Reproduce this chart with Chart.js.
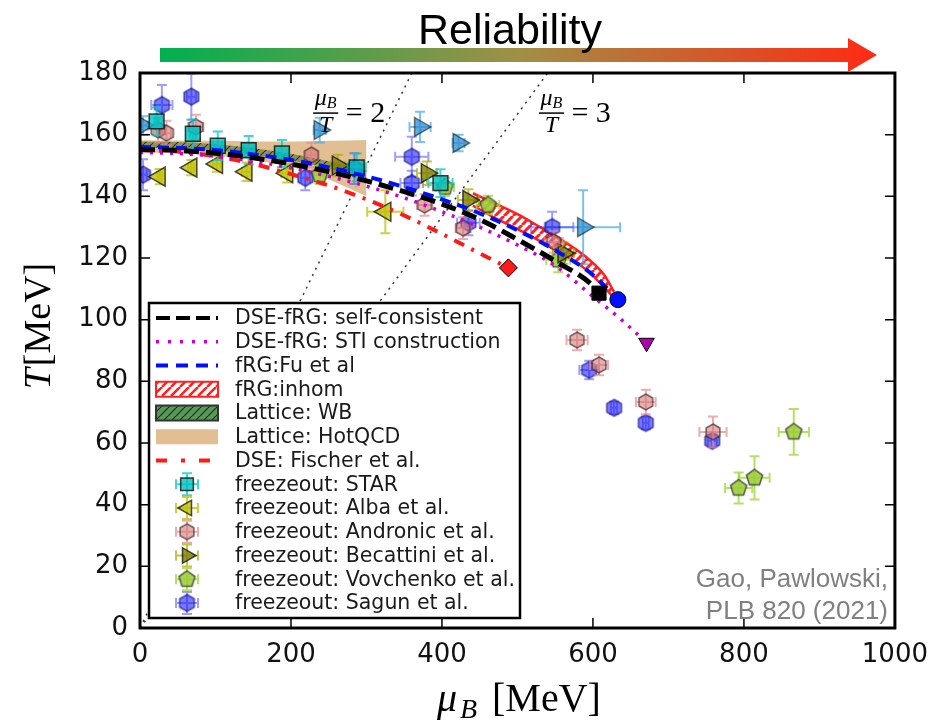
<!DOCTYPE html>
<html>
<head>
<meta charset="utf-8">
<title>QCD phase boundary</title>
<script src="https://cdn.jsdelivr.net/npm/chart.js@4.4.1/dist/chart.umd.min.js"></script>
<style>
  html, body { margin: 0; padding: 0; background: #fff; }
</style>
</head>
<body>
<canvas id="phaseChart" width="940" height="727"></canvas>
<script>
/* =========================================================
   Chiral phase boundary T(mu_B) — curves, bands, freeze-out
   ========================================================= */

// ---- phase boundary curves ----
const selfConsMu = [0, 50, 100, 150, 200, 250, 300, 350, 400, 450, 500, 550, 600, 608];
const selfConsT  = [155.2, 154.9, 154, 152.5, 150.5, 148, 145, 141.5, 137.5, 132.5, 126, 119, 111, 108.6];

const stiMu = [0, 50, 100, 150, 200, 250, 300, 350, 400, 450, 500, 550, 600, 640, 671];
const stiT  = [154.2, 153.9, 153, 151.4, 149.2, 146.5, 143.3, 139.5, 135, 130, 124.2, 117.5, 107.5, 99.5, 92.5];

const fuMu = [0, 50, 100, 150, 200, 250, 300, 350, 400, 450, 500, 550, 600, 633];
const fuT  = [156, 155.7, 155, 153.6, 151.8, 149.4, 146.5, 143, 139, 134.5, 129, 122.5, 114.5, 106.5];

const fischerMu = [0, 50, 100, 150, 200, 250, 300, 350, 400, 450, 488];
const fischerT  = [155, 154.5, 153, 150.5, 147.2, 143.5, 139, 133.8, 127.8, 121.5, 116.8];

// ---- bands ----
const inhomMu   = [441, 470, 500, 530, 560, 590, 615, 628];
const inhomHiT  = [141, 137.7, 134.2, 130, 125.6, 120.5, 114.5, 109];
const inhomLoT  = [137, 133, 129.4, 125.5, 121.3, 116.4, 110.5, 107];

const latticeMu = [0, 50, 100, 150, 200, 250, 300];
const wbHiT     = [157.8, 157.6, 156.9, 155.6, 153.8, 151.4, 148.5];
const wbLoT     = [155.8, 155.6, 154.9, 153.5, 151.6, 149, 145.8];
const hotHiT    = [158.2, 158.1, 158, 157.8, 157.8, 158, 158.3];
const hotLoT    = [154.2, 154, 153.2, 151.8, 149.5, 145.5, 140];

// ---- constant mu_B/T guide lines ----
const ratio2Mu = [0, 360];
const ratio2T  = [0, 180];
const ratio3Mu = [0, 540];
const ratio3T  = [0, 180];

// ---- freeze-out points ----
const starMu    = [22, 70, 103, 144, 188, 287, 398];
const starT     = [164.3, 160.3, 156.4, 155, 153.9, 149.4, 144.3];
const starMuErr = [3, 4, 6, 7, 9, 12, 16];
const starTErr  = [4.5, 4.6, 4.6, 4.6, 4.4, 4.5, 4.5];

const albaMu    = [26, 68, 102, 141, 195, 325];
const albaT     = [146.4, 149.3, 150.5, 148, 147.5, 135];
const albaMuErr = [3, 4, 5, 6, 8, 24];
const albaTErr  = [2.5, 2.5, 2.5, 3, 3, 7];

const andronicMu    = [24, 35, 74, 227, 377, 428, 548, 579, 608, 670, 759];
const andronicT     = [161.5, 160.5, 162.5, 153.4, 137.2, 129.7, 125.2, 93.4, 85.3, 73.3, 63.6];
const andronicMuErr = [6, 6, 10, 8, 10, 10, 12, 14, 12, 13, 18];
const andronicTErr  = [4, 4, 4, 4, 3.5, 3.5, 3.5, 3.3, 3.3, 4, 5];

const becattiniMu    = [262, 380, 435, 561];
const becattiniT     = [150, 147.5, 138.8, 121.6];
const becattiniMuErr = [10, 13, 14, 14];
const becattiniTErr  = [3.5, 3.8, 3.5, 3.5];

const vovchenkoMu    = [238, 404, 461, 554, 793, 814, 866];
const vovchenkoT     = [147, 143, 137.2, 119.4, 45.4, 48.7, 63.6];
const vovchenkoMuErr = [8, 12, 15, 16, 18, 20, 20];
const vovchenkoTErr  = [3, 3, 3, 4, 5, 7, 7.4];

const sagunMu    = [4, 29, 68, 219, 284, 360, 360, 435, 546, 595, 628, 670, 758];
const sagunT     = [147, 169.6, 172.3, 146, 149, 152.8, 144.3, 131.4, 130, 83.7, 71.4, 66.5, 60.7];
const sagunMuErr = [5, 14, 6, 6, 10, 22, 15, 15, 28, 13, 4, 4, 6];
const sagunTErr  = [5, 6.5, 7.5, 4, 5, 6.5, 4, 4, 5, 3, 2, 2, 2];

// unlabelled light-blue triangles
const extraMu    = [4, 238, 371, 422, 587];
const extraT     = [163, 161.5, 162.5, 157.3, 130];
const extraMuErr = [6, 8, 14, 8, 49];
const extraTErr  = [3, 4, 4.9, 2.7, 12];

// text placed in data coordinates
const ratioLabels = [{ r: "2", mu: 246, T: 167 }, { r: "3", mu: 545, T: 167 }];

const SANS = "'DejaVu Sans', sans-serif";
const SERIF = "'Liberation Serif', 'DejaVu Serif', serif";

function pts(xs, ys) {
  return xs.map((x, i) => ({ x, y: ys[i] }));
}

function hatch(bg, fg, width, step) {
  const c = document.createElement("canvas");
  c.width = c.height = step;
  const g = c.getContext("2d");
  if (bg) { g.fillStyle = bg; g.fillRect(0, 0, step, step); }
  g.strokeStyle = fg;
  g.lineWidth = width;
  g.beginPath();
  for (const t of [-step, 0, step]) {
    g.moveTo(t, step);
    g.lineTo(t + step, 0);
  }
  g.stroke();
  return document.createElement("canvas").getContext("2d").createPattern(c, "repeat");
}

function polyMarker(n, r, fill, stroke) {
  const c = document.createElement("canvas");
  const s = Math.ceil(2 * r + 4);
  c.width = c.height = s;
  const g = c.getContext("2d");
  g.beginPath();
  for (let k = 0; k < n; k++) {
    const a = (k * 2 * Math.PI) / n - Math.PI / 2;
    const px = s / 2 + r * Math.cos(a), py = s / 2 + r * Math.sin(a);
    k ? g.lineTo(px, py) : g.moveTo(px, py);
  }
  g.closePath();
  g.fillStyle = fill;
  g.fill();
  g.lineWidth = 1.5;
  g.strokeStyle = stroke;
  g.stroke();
  return c;
}

const lastOnly = (n, r) => (c) => (c.dataIndex === n - 1 ? r : 0);

function curve(label, xs, ys, o) {
  return Object.assign({
    label, data: pts(xs, ys), showLine: true, fill: false,
    cubicInterpolationMode: "monotone", pointRadius: 0, pointHoverRadius: 0,
  }, o);
}

function freeze(label, xs, ys, xe, ye, o) {
  return Object.assign({
    label, data: pts(xs, ys), xErr: xe, yErr: ye, showLine: false,
    pointBorderWidth: 1.5, order: 5, legendKind: "marker",
  }, o);
}

const datasets = [
  curve("mu/T=2", ratio2Mu, ratio2T, { borderColor: "#333", borderWidth: 1.5, borderDash: [2, 5], order: 10, cubicInterpolationMode: "default" }),
  curve("mu/T=3", ratio3Mu, ratio3T, { borderColor: "#333", borderWidth: 1.5, borderDash: [2, 5], order: 10, cubicInterpolationMode: "default" }),

  curve("Lattice: HotQCD", latticeMu, hotHiT, {
    borderWidth: 0, fill: "+1", backgroundColor: "rgba(222,184,135,0.9)", order: 9,
    legendRank: 6, legendKind: "band",
  }),
  curve("hot-lo", latticeMu, hotLoT, { borderWidth: 0, order: 9 }),

  curve("Lattice: WB", latticeMu, wbHiT, {
    borderWidth: 0, fill: "+1", backgroundColor: hatch("rgba(70,110,40,0.55)", "rgba(30,30,10,0.8)", 1.2, 8), order: 8,
    legendRank: 5, legendKind: "band", legendFill: hatch("rgba(70,140,70,0.9)", "rgba(20,40,20,0.9)", 1.2, 8), legendEdge: "#333",
  }),
  curve("wb-lo", latticeMu, wbLoT, { borderWidth: 0, order: 8 }),

  curve("fRG:inhom", inhomMu, inhomHiT, {
    borderColor: "#ff2020", borderWidth: 2.5, fill: "+1", backgroundColor: hatch(null, "#ff2020", 3, 9), order: 7,
    legendRank: 4, legendKind: "band", legendFill: hatch("#fff", "#ff2020", 2.5, 9), legendEdge: "#ff2020",
  }),
  curve("inhom-lo", inhomMu, inhomLoT, { borderColor: "#ff2020", borderWidth: 2.5, order: 7 }),

  freeze("freezeout: STAR", starMu, starT, starMuErr, starTErr, {
    pointStyle: "rect", pointRadius: 10.5, pointBackgroundColor: "rgba(0,191,191,0.8)", pointBorderColor: "rgba(0,0,0,0.75)",
    errColor: "rgba(0,200,200,0.75)", legendRank: 8,
  }),
  freeze("freezeout: Alba et al.", albaMu, albaT, albaMuErr, albaTErr, {
    pointStyle: "triangle", pointRotation: 270, pointRadius: 11, pointBackgroundColor: "rgba(191,191,0,0.8)", pointBorderColor: "rgba(0,0,0,0.7)",
    errColor: "rgba(191,191,0,0.75)", legendRank: 9,
  }),
  freeze("freezeout: Andronic et al.", andronicMu, andronicT, andronicMuErr, andronicTErr, {
    pointStyle: polyMarker(6, 8, "rgba(215,120,120,0.6)", "rgba(60,40,40,0.7)"), pointRadius: 8,
    errColor: "rgba(225,140,140,0.7)", legendRank: 10,
  }),
  freeze("freezeout: Becattini et al.", becattiniMu, becattiniT, becattiniMuErr, becattiniTErr, {
    pointStyle: "triangle", pointRotation: 90, pointRadius: 11, pointBackgroundColor: "rgba(128,128,0,0.8)", pointBorderColor: "rgba(0,0,0,0.7)",
    errColor: "rgba(170,170,0,0.7)", legendRank: 11,
  }),
  freeze("freezeout: Vovchenko et al.", vovchenkoMu, vovchenkoT, vovchenkoMuErr, vovchenkoTErr, {
    pointStyle: polyMarker(5, 8.5, "rgba(154,205,50,0.85)", "rgba(50,50,50,0.8)"), pointRadius: 8,
    errColor: "rgba(154,215,50,0.75)", legendRank: 12,
  }),
  freeze("freezeout: Sagun et al.", sagunMu, sagunT, sagunMuErr, sagunTErr, {
    pointStyle: polyMarker(6, 8.5, "rgba(30,30,255,0.6)", "rgba(0,0,90,0.6)"), pointRadius: 8,
    errColor: "rgba(40,40,255,0.45)", legendRank: 13,
  }),
  freeze("freezeout: extra", extraMu, extraT, extraMuErr, extraTErr, {
    pointStyle: "triangle", pointRotation: 90, pointRadius: 11, pointBackgroundColor: "rgba(40,140,210,0.75)", pointBorderColor: "rgba(0,0,0,0.5)",
    errColor: "rgba(70,165,225,0.7)", legendKind: null,
  }),

  curve("DSE: Fischer et al.", fischerMu, fischerT, {
    borderColor: "#ff1a1a", borderWidth: 4, borderDash: [11, 8, 3, 8], order: 4,
    pointRadius: lastOnly(fischerMu.length, 9), pointStyle: "rectRot", pointBackgroundColor: "#ff1a1a", pointBorderColor: "#000", pointBorderWidth: 1,
    legendRank: 7, legendKind: "line", legendDash: [11, 14, 4, 14],
  }),
  curve("DSE-fRG: STI construction", stiMu, stiT, {
    borderColor: "#cc00cc", borderWidth: 3.5, borderDash: [3, 7], order: 3,
    pointRadius: lastOnly(stiMu.length, 9), pointStyle: "triangle", pointRotation: 180, pointBackgroundColor: "#b000b0", pointBorderColor: "#000", pointBorderWidth: 1,
    legendRank: 2, legendKind: "line", legendDash: [3, 9],
  }),
  curve("fRG:Fu et al", fuMu, fuT, {
    borderColor: "#0010ff", borderWidth: 4, borderDash: [11, 7], order: 2,
    pointRadius: lastOnly(fuMu.length, 8), pointStyle: "circle", pointBackgroundColor: "#0010ff", pointBorderColor: "#000", pointBorderWidth: 1,
    legendRank: 3, legendKind: "line", legendDash: [12, 8],
  }),
  curve("DSE-fRG: self-consistent", selfConsMu, selfConsT, {
    borderColor: "#000", borderWidth: 5, borderDash: [15, 7], order: 1,
    pointRadius: lastOnly(selfConsMu.length, 10), pointStyle: "rect", pointBackgroundColor: "#000", pointBorderColor: "#000", pointBorderWidth: 1,
    legendRank: 1, legendKind: "line", legendDash: [14, 6],
  }),
];

// error bars under each freeze-out dataset
const errorBars = {
  id: "errorBars",
  beforeDatasetDraw(chart, args) {
    const ds = chart.data.datasets[args.index];
    if (!ds.xErr && !ds.yErr) return;
    const { ctx, chartArea: a, scales: { x, y } } = chart;
    const cap = 5;
    ctx.save();
    ctx.beginPath();
    ctx.rect(a.left, a.top, a.width, a.height);
    ctx.clip();
    ctx.strokeStyle = ds.errColor;
    ctx.lineWidth = 2;
    ds.data.forEach((p, i) => {
      const px = x.getPixelForValue(p.x), py = y.getPixelForValue(p.y);
      const l = x.getPixelForValue(p.x - ds.xErr[i]), r = x.getPixelForValue(p.x + ds.xErr[i]);
      const t = y.getPixelForValue(p.y + ds.yErr[i]), b = y.getPixelForValue(p.y - ds.yErr[i]);
      ctx.beginPath();
      ctx.moveTo(l, py); ctx.lineTo(r, py);
      ctx.moveTo(l, py - cap); ctx.lineTo(l, py + cap);
      ctx.moveTo(r, py - cap); ctx.lineTo(r, py + cap);
      ctx.moveTo(px, t); ctx.lineTo(px, b);
      ctx.moveTo(px - cap, t); ctx.lineTo(px + cap, t);
      ctx.moveTo(px - cap, b); ctx.lineTo(px + cap, b);
      ctx.stroke();
    });
    ctx.restore();
  },
};

// matplotlib-like legend box in the lower-left corner
const boxLegend = {
  id: "boxLegend",
  afterDatasetsDraw(chart) {
    const { ctx } = chart;
    const items = chart.data.datasets.filter((d) => d.legendRank).sort((a, b) => a.legendRank - b.legendRank);
    const box = { x: 149, y: 303, w: 371, h: 315 };
    ctx.save();
    ctx.fillStyle = "#fff";
    ctx.fillRect(box.x, box.y, box.w, box.h);
    ctx.lineWidth = 2.5;
    ctx.strokeStyle = "#000";
    ctx.strokeRect(box.x, box.y, box.w, box.h);

    items.forEach((d, i) => {
      const cy = box.y + 15 + i * 23.75;
      const x0 = 156, x1 = 218, xm = 187;
      if (d.legendKind === "line") {
        ctx.save();
        ctx.setLineDash(d.legendDash || []);
        ctx.lineWidth = Math.min(d.borderWidth, 4);
        ctx.strokeStyle = d.borderColor;
        ctx.beginPath();
        ctx.moveTo(x0, cy);
        ctx.lineTo(x1, cy);
        ctx.stroke();
        ctx.restore();
      } else if (d.legendKind === "band") {
        ctx.fillStyle = d.legendFill || d.backgroundColor;
        ctx.fillRect(x0, cy - 7.5, x1 - x0, 15);
        if (d.legendEdge) {
          ctx.lineWidth = 2;
          ctx.strokeStyle = d.legendEdge;
          ctx.strokeRect(x0, cy - 7.5, x1 - x0, 15);
        }
      } else {
        ctx.strokeStyle = d.errColor;
        ctx.lineWidth = 2;
        ctx.beginPath();
        ctx.moveTo(xm - 11, cy); ctx.lineTo(xm + 11, cy);
        ctx.moveTo(xm, cy - 11); ctx.lineTo(xm, cy + 11);
        ctx.moveTo(xm - 11, cy - 5); ctx.lineTo(xm - 11, cy + 5);
        ctx.moveTo(xm + 11, cy - 5); ctx.lineTo(xm + 11, cy + 5);
        ctx.moveTo(xm - 5, cy - 11); ctx.lineTo(xm + 5, cy - 11);
        ctx.moveTo(xm - 5, cy + 11); ctx.lineTo(xm + 5, cy + 11);
        ctx.stroke();
        ctx.fillStyle = d.pointBackgroundColor || "#000";
        ctx.strokeStyle = d.pointBorderColor || "#000";
        ctx.lineWidth = 1.5;
        Chart.helpers.drawPoint(ctx, {
          pointStyle: d.pointStyle, rotation: d.pointRotation || 0, radius: 9, borderWidth: 1.5,
        }, xm, cy);
      }
      ctx.fillStyle = "#1a1a1a";
      ctx.font = "20.5px " + SANS;
      ctx.textAlign = "left";
      ctx.textBaseline = "middle";
      ctx.fillText(d.label, 235, cy + 1);
    });
    ctx.restore();
  },
};

// thick frame with inward ticks on all four sides
const frame = {
  id: "frame",
  afterDraw(chart) {
    const { ctx, chartArea: a, scales: { x, y } } = chart;
    ctx.save();
    ctx.strokeStyle = "#000";
    ctx.lineWidth = 1.5;
    ctx.beginPath();
    x.ticks.forEach((t) => {
      const px = x.getPixelForValue(t.value);
      ctx.moveTo(px, a.bottom); ctx.lineTo(px, a.bottom - 10);
      ctx.moveTo(px, a.top); ctx.lineTo(px, a.top + 10);
    });
    y.ticks.forEach((t) => {
      const py = y.getPixelForValue(t.value);
      ctx.moveTo(a.left, py); ctx.lineTo(a.left + 10, py);
      ctx.moveTo(a.right, py); ctx.lineTo(a.right - 10, py);
    });
    ctx.stroke();
    ctx.lineWidth = 3;
    ctx.strokeRect(a.left, a.top, a.width, a.height);
    ctx.restore();
  },
};

// arrow title, axis titles, mu/T labels, credit
const annotations = {
  id: "annotations",
  afterDraw(chart) {
    const { ctx, scales: { x, y } } = chart;
    ctx.save();

    // Reliability arrow
    const grad = ctx.createLinearGradient(160, 0, 877, 0);
    grad.addColorStop(0, "#00b050");
    grad.addColorStop(0.5, "#a08f45");
    grad.addColorStop(1, "#ff2a14");
    ctx.fillStyle = grad;
    ctx.beginPath();
    ctx.moveTo(160, 48); ctx.lineTo(848, 48); ctx.lineTo(848, 38); ctx.lineTo(877, 55);
    ctx.lineTo(848, 72); ctx.lineTo(848, 62); ctx.lineTo(160, 62);
    ctx.closePath();
    ctx.fill();
    ctx.fillStyle = "#000";
    ctx.font = "43px 'Liberation Sans', Arial, sans-serif";
    ctx.textAlign = "center";
    ctx.textBaseline = "alphabetic";
    ctx.fillText("Reliability", 510, 44);

    // mu_B / T = n labels
    ratioLabels.forEach((l) => {
      const cx = x.getPixelForValue(l.mu), cy = y.getPixelForValue(l.T);
      ctx.strokeStyle = "#000";
      ctx.lineWidth = 1.5;
      ctx.beginPath();
      ctx.moveTo(cx - 12.5, cy); ctx.lineTo(cx + 12.5, cy);
      ctx.stroke();
      ctx.fillStyle = "#000";
      ctx.textAlign = "left";
      ctx.font = "italic 24px " + SERIF;
      ctx.fillText("μ", cx - 11, cy - 8);
      ctx.font = "italic 16px " + SERIF;
      ctx.fillText("B", cx + 1, cy - 5);
      ctx.font = "italic 24px " + SERIF;
      ctx.textAlign = "center";
      ctx.fillText("T", cx, cy + 19);
      ctx.textAlign = "left";
      ctx.font = "30px " + SERIF;
      ctx.fillText("= " + l.r, cx + 20, cy + 9);
    });

    // x axis title
    ctx.font = "italic 40px " + SERIF;
    ctx.textAlign = "left";
    ctx.fillText("μ", 437, 711);
    ctx.font = "italic 28px " + SERIF;
    ctx.fillText("B", 460, 718);
    ctx.font = "40px " + SERIF;
    ctx.fillText("[MeV]", 492, 711);

    // y axis title
    ctx.save();
    ctx.translate(50, 327);
    ctx.rotate(-Math.PI / 2);
    ctx.textAlign = "left";
    ctx.font = "italic 38px " + SERIF;
    const tw = ctx.measureText("T").width;
    ctx.font = "38px " + SERIF;
    const rw = ctx.measureText("[MeV]").width;
    const start = -(tw + rw) / 2;
    ctx.font = "italic 38px " + SERIF;
    ctx.fillText("T", start, 0);
    ctx.font = "38px " + SERIF;
    ctx.fillText("[MeV]", start + tw + 2, 0);
    ctx.restore();

    // credit
    ctx.fillStyle = "#808080";
    ctx.font = "26px 'Liberation Sans', Arial, sans-serif";
    ctx.textAlign = "right";
    ctx.fillText("Gao, Pawlowski,", 888, 587);
    ctx.fillText("PLB 820 (2021)", 888, 619);
    ctx.restore();
  },
};

new Chart(document.getElementById("phaseChart"), {
  type: "line",
  data: { datasets },
  options: {
    responsive: false,
    animation: false,
    devicePixelRatio: 1,
    layout: { padding: { left: 0, top: 73, right: 37, bottom: 0 } },
    plugins: { legend: { display: false }, tooltip: { enabled: false } },
    scales: {
      x: {
        type: "linear", min: 0, max: 1000,
        ticks: { stepSize: 200, color: "#111", padding: 12, font: { family: SANS, size: 26 }, maxRotation: 0, callback: (v) => String(v) },
        grid: { display: false, drawTicks: false },
        border: { display: false },
        afterFit: (s) => { s.height = 99; },
      },
      y: {
        type: "linear", min: 0, max: 180,
        ticks: { stepSize: 20, color: "#111", padding: 12, font: { family: SANS, size: 26 }, callback: (v) => String(v) },
        grid: { display: false, drawTicks: false },
        border: { display: false },
        afterFit: (s) => { s.width = 140; },
      },
    },
  },
  plugins: [errorBars, boxLegend, frame, annotations],
});
</script>
</body>
</html>
